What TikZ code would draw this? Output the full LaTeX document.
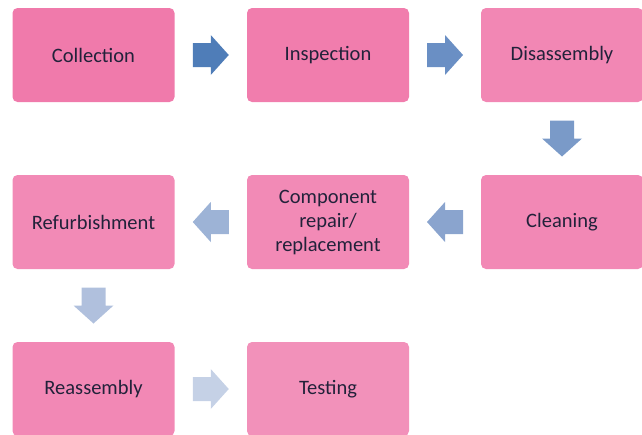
\documentclass[tikz,border=0pt]{standalone}
\usepackage{fontspec}
\setmainfont{Carlito}
\usetikzlibrary{calc}
\definecolor{txt}{HTML}{22223A}
\definecolor{pA}{HTML}{F07AAB}
\definecolor{pB}{HTML}{F17DAD}
\definecolor{pC}{HTML}{F287B4}
\definecolor{pD}{HTML}{F288B5}
\definecolor{pE}{HTML}{F28AB6}
\definecolor{pF}{HTML}{F28AB6}
\definecolor{pG}{HTML}{F288B5}
\definecolor{pH}{HTML}{F291BA}
\definecolor{aA}{HTML}{4F7DB8}
\definecolor{aB}{HTML}{6A8FC4}
\definecolor{aC}{HTML}{7A9AC8}
\definecolor{aD}{HTML}{8AA4CE}
\definecolor{aE}{HTML}{9DB3D6}
\definecolor{aF}{HTML}{B0C0DD}
\definecolor{aG}{HTML}{C5D1E6}
\begin{document}
\begin{tikzpicture}[x=1pt,y=-1pt,
  stepbox/.style={rectangle,rounded corners=5pt,minimum width=162pt,minimum height=94pt,
    inner sep=2pt,align=center,text=txt,font=\fontsize{20.5}{24}\selectfont},
  barrow/.pic={\fill (-18,-12) -- (0,-12) -- (0,-20) -- (18,0) -- (0,20) -- (0,12) -- (-18,12) -- cycle;}]
\useasboundingbox (0,0) rectangle (642,434);
\begin{scope}
\clip (0,0) rectangle (642,434);
\node[stepbox,fill=pA] (col) at (93.5,55) {Collection};
\node[stepbox,fill=pB] (ins) at (328,55) {Inspection};
\node[stepbox,fill=pC] (dis) at (562,55) {Disassembly};
\node[stepbox,fill=pD] (cle) at (562,222) {Cleaning};
\node[stepbox,fill=pE] (com) at (328,222) {Component\\repair/\\replacement};
\node[stepbox,fill=pF] (ref) at (93.5,222) {Refurbishment};
\node[stepbox,fill=pG] (rea) at (93.5,389) {Reassembly};
\node[stepbox,fill=pH] (tes) at (328,389) {Testing};
\end{scope}
\path ($(col.east)!0.5!(ins.west)$) pic[aA] {barrow};
\path ($(ins.east)!0.5!(dis.west)$) pic[aB] {barrow};
\path ($(dis.south)!0.5!(cle.north)$) pic[aC,rotate=-90] {barrow};
\path ($(cle.west)!0.5!(com.east)$) pic[aD,rotate=180] {barrow};
\path ($(com.west)!0.5!(ref.east)$) pic[aE,rotate=180] {barrow};
\path ($(ref.south)!0.5!(rea.north)$) pic[aF,rotate=-90] {barrow};
\path ($(rea.east)!0.5!(tes.west)$) pic[aG] {barrow};
\end{tikzpicture}
\end{document}
